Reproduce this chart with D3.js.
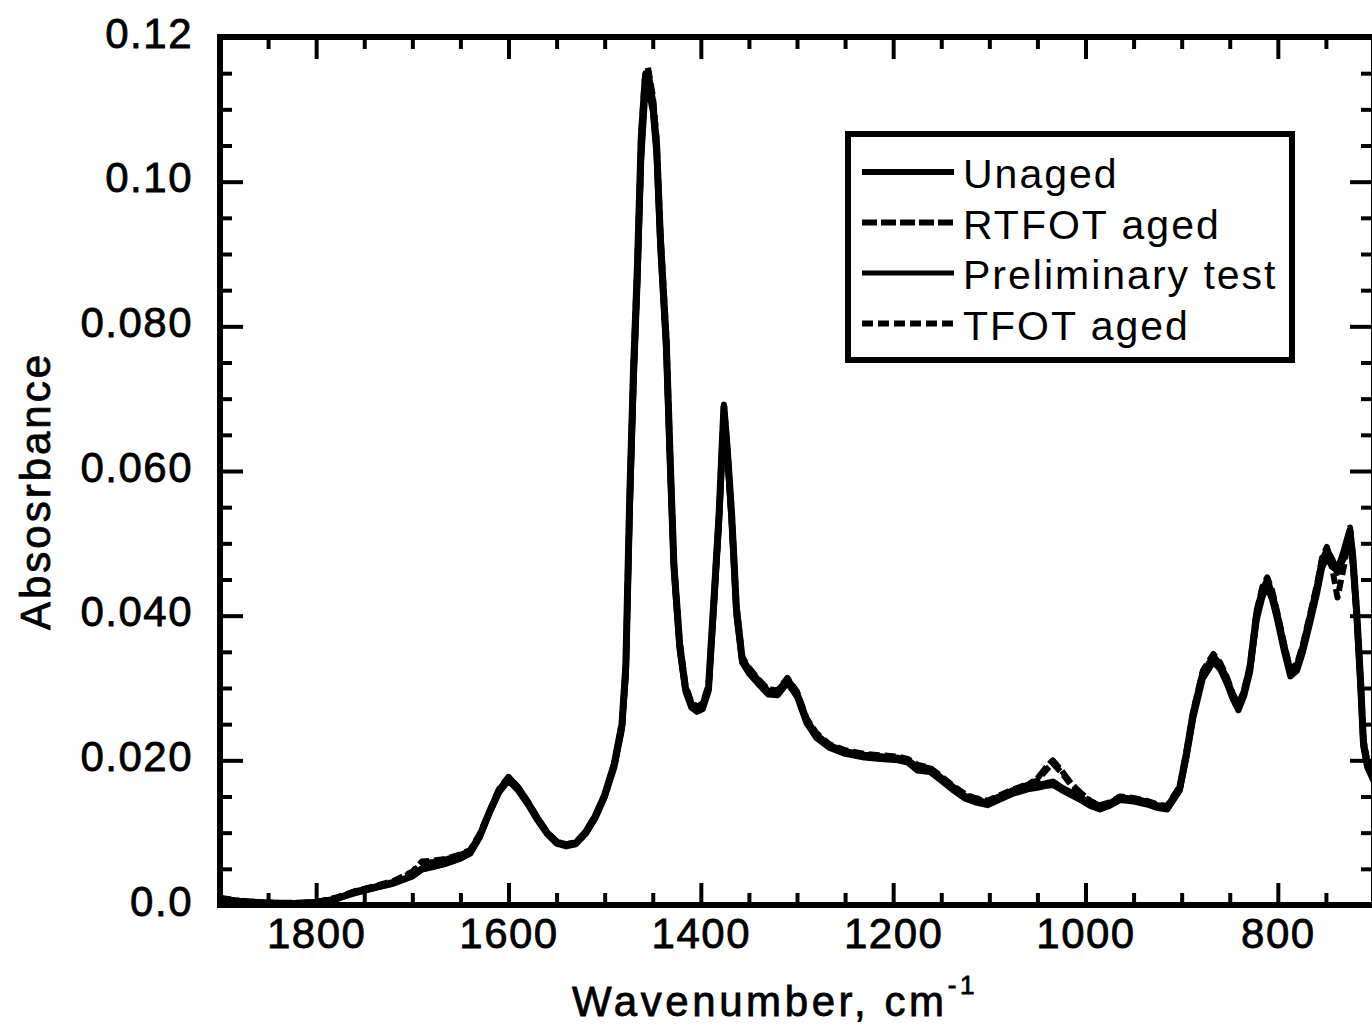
<!DOCTYPE html>
<html lang="en">
<head>
<meta charset="utf-8">
<title>FTIR spectra</title>
<script src="https://d3js.org/d3.v7.min.js"></script>
<style>
    body { margin: 0; background: white; }
    svg { display: block; }
    text { font-family: "Liberation Sans", Arial, sans-serif; fill: #000; }
    .series { fill: none; stroke: #000; stroke-linejoin: round; }
</style>
</head>
<body>
<svg width="1372" height="1027"></svg>
<script>
// values (wavenumber in cm-1, absorbance)
const wavenumbers = [1900, 1880, 1860, 1840, 1820, 1800, 1780, 1760, 1740, 1720, 1700, 1690, 1680, 1665, 1650, 1640, 1630, 1620, 1610, 1600,
    1590, 1580, 1570, 1560, 1550, 1540, 1530, 1520, 1510, 1500, 1490, 1482, 1478, 1474, 1470, 1466, 1462, 1458, 1455, 1450,
    1446, 1442, 1436, 1432, 1428, 1422, 1416, 1410, 1404, 1398, 1392, 1386, 1381, 1376, 1372, 1368, 1363, 1357, 1350, 1340,
    1330, 1320, 1310, 1300, 1290, 1280, 1266, 1250, 1230, 1213, 1195, 1185, 1175, 1162, 1150, 1138, 1125, 1115, 1102, 1090,
    1075, 1060, 1050, 1040, 1034, 1025, 1015, 1005, 995, 985, 975, 964, 950, 936, 925, 915, 902, 895, 888, 878,
    867, 860, 853, 847, 841, 835, 829, 822, 816, 811, 806, 801, 794, 787, 780, 774, 766, 759, 754, 749,
    744, 738, 731, 725, 722, 718, 714, 711, 707, 700];

const unaged = [.0008, .0005, .0003, .0002, .0002, .0003, .0008, .0018, .0024, .0030, .0040, .0050, .0053, .0058, .0065, .0072, .0095, .0128, .0158, .0176,
    .0162, .0142, .0120, .0100, .0087, .0083, .0086, .0100, .0122, .0152, .0195, .0250, .0330, .0560, .0740, .0880, .1060, .1140, .1152, .1110,
    .1050, .0920, .0780, .0620, .0470, .0360, .0300, .0278, .0272, .0276, .0300, .0430, .0540, .0688, .0620, .0540, .0410, .0340, .0325, .0310,
    .0295, .0295, .0312, .0292, .0255, .0235, .0220, .0212, .0207, .0205, .0203, .0200, .0190, .0187, .0175, .0162, .0150, .0145, .0141, .0148,
    .0157, .0163, .0165, .0168, .0170, .0162, .0155, .0148, .0140, .0135, .0140, .0148, .0146, .0142, .0137, .0135, .0162, .0210, .0265, .0320,
    .0343, .0332, .0312, .0290, .0274, .0295, .0328, .0403, .0435, .0448, .0430, .0403, .0360, .0322, .0330, .0356, .0400, .0440, .0475, .0490,
    .0478, .0460, .0490, .0518, .0480, .0405, .0310, .0225, .0195, .0175];

const rtfotAged = [.0009, .0006, .0004, .0003, .0003, .0004, .0009, .0017, .0025, .0032, .0045, .0058, .0059, .0063, .0069, .0075, .0097, .0127, .0157, .0174,
    .0160, .0141, .0119, .0099, .0086, .0082, .0085, .0098, .0120, .0150, .0192, .0246, .0322, .0545, .0725, .0865, .1040, .1125, .1140, .1105,
    .1045, .0915, .0775, .0615, .0468, .0358, .0298, .0277, .0270, .0274, .0298, .0425, .0535, .0680, .0615, .0535, .0405, .0338, .0323, .0308,
    .0294, .0293, .0310, .0290, .0254, .0234, .0219, .0211, .0206, .0204, .0202, .0199, .0192, .0189, .0176, .0164, .0152, .0147, .0143, .0150,
    .0159, .0166, .0175, .0192, .0200, .0186, .0168, .0155, .0144, .0137, .0141, .0149, .0147, .0143, .0138, .0136, .0160, .0207, .0262, .0317,
    .0340, .0329, .0310, .0288, .0272, .0292, .0325, .0398, .0430, .0444, .0426, .0400, .0357, .0320, .0327, .0352, .0396, .0436, .0470, .0485,
    .0474, .0468, .0485, .0512, .0476, .0400, .0306, .0222, .0193, .0173];

const preliminaryTest = [.0008, .0005, .0003, .0002, .0002, .0004, .0008, .0016, .0023, .0030, .0040, .0049, .0052, .0057, .0064, .0071, .0093, .0126, .0155, .0172,
    .0158, .0139, .0117, .0098, .0085, .0081, .0084, .0098, .0119, .0149, .0190, .0243, .0318, .0540, .0715, .0855, .1030, .1118, .1130, .1098,
    .1035, .0905, .0765, .0605, .0460, .0352, .0295, .0273, .0267, .0271, .0295, .0420, .0530, .0675, .0610, .0530, .0400, .0335, .0320, .0305,
    .0291, .0290, .0307, .0288, .0251, .0231, .0217, .0209, .0204, .0202, .0200, .0197, .0186, .0184, .0172, .0159, .0147, .0142, .0138, .0145,
    .0154, .0160, .0162, .0165, .0166, .0159, .0152, .0145, .0137, .0132, .0137, .0145, .0143, .0139, .0134, .0132, .0158, .0204, .0258, .0313,
    .0336, .0326, .0306, .0285, .0269, .0289, .0321, .0394, .0426, .0440, .0422, .0396, .0353, .0316, .0324, .0349, .0392, .0432, .0466, .0481,
    .0468, .0462, .0480, .0508, .0470, .0395, .0300, .0218, .0190, .0170];

const tfotAged = [.0010, .0006, .0004, .0003, .0002, .0004, .0010, .0019, .0026, .0033, .0046, .0060, .0061, .0064, .0070, .0076, .0098, .0129, .0160, .0177,
    .0163, .0143, .0121, .0101, .0088, .0084, .0087, .0101, .0123, .0153, .0196, .0252, .0334, .0565, .0748, .0890, .1065, .1148, .1158, .1120,
    .1060, .0930, .0790, .0628, .0475, .0364, .0304, .0281, .0274, .0279, .0304, .0435, .0545, .0692, .0625, .0545, .0415, .0343, .0328, .0312,
    .0298, .0297, .0314, .0295, .0258, .0238, .0222, .0214, .0209, .0207, .0205, .0202, .0194, .0190, .0178, .0165, .0153, .0148, .0144, .0151,
    .0160, .0167, .0172, .0188, .0196, .0183, .0166, .0154, .0143, .0138, .0142, .0150, .0148, .0144, .0139, .0137, .0164, .0213, .0268, .0324,
    .0347, .0335, .0315, .0293, .0277, .0298, .0331, .0407, .0440, .0453, .0435, .0407, .0364, .0325, .0334, .0360, .0405, .0445, .0480, .0495,
    .0470, .0425, .0470, .0522, .0485, .0410, .0315, .0230, .0198, .0178];

const seriesNames = ['Unaged', 'RTFOT aged', 'Preliminary test', 'TFOT aged'];
const seriesValues = [unaged, rtfotAged, preliminaryTest, tfotAged];
const seriesDash = [null, '15,4', null, '11,5'];
const seriesWidth = [7, 6, 6, 6];
const legendWidth = [6, 6, 5, 6];

const xTickValues = [1800, 1600, 1400, 1200, 1000, 800];
const xMinorValues = [1850, 1750, 1700, 1650, 1550, 1500, 1450, 1350, 1300, 1250, 1150, 1100, 1050, 950, 900, 850, 750];
const yTickValues = [0, 0.02, 0.04, 0.06, 0.08, 0.10, 0.12];
const yTickLabels = ['0.0', '0.020', '0.040', '0.060', '0.080', '0.10', '0.12'];
const yMinorValues = [0.005, 0.01, 0.015, 0.025, 0.03, 0.035, 0.045, 0.05, 0.055, 0.065, 0.07, 0.075,
    0.085, 0.09, 0.095, 0.105, 0.11, 0.115];

// plot box
const plot = {left: 220, right: 1374, top: 37, bottom: 905};

const svg = d3.select('svg');

const x = d3.scaleLinear().domain([1900, 700]).range([plot.left, plot.right]);
const y = d3.scaleLinear().domain([0, 0.12]).range([plot.bottom, plot.top]);

// the curves
const line = d3.line()
    .x(d => x(d[0]))
    .y(d => y(d[1]));

seriesValues.forEach((vals, i) => {
    const pts = wavenumbers.map((w, j) => [w, vals[j]]);
    svg.append('path')
        .attr('class', 'series')
        .attr('d', line(pts))
        .attr('stroke-width', seriesWidth[i])
        .attr('stroke-dasharray', seriesDash[i]);
});

// axes: ticks point inward on all four sides
function styleAxis(g) {
    g.select('.domain').remove();
    g.selectAll('.tick line').attr('stroke', '#000').attr('stroke-width', 4);
    g.selectAll('.tick text')
        .attr('font-size', 42)
        .attr('letter-spacing', 1.5)
        .attr('font-family', '"Liberation Sans", Arial, sans-serif')
        .attr('stroke', '#000').attr('stroke-width', 0.8);
}

svg.append('g')
    .attr('transform', `translate(0, ${plot.bottom})`)
    .call(d3.axisBottom(x).tickValues(xTickValues).tickSize(-22).tickPadding(13).tickFormat(d3.format('d')))
    .call(styleAxis);
svg.append('g')
    .attr('transform', `translate(0, ${plot.bottom})`)
    .call(d3.axisBottom(x).tickValues(xMinorValues).tickSize(-12).tickFormat(''))
    .call(styleAxis);
svg.append('g')
    .attr('transform', `translate(0, ${plot.top})`)
    .call(d3.axisTop(x).tickValues(xTickValues).tickSize(-22).tickFormat(''))
    .call(styleAxis);
svg.append('g')
    .attr('transform', `translate(0, ${plot.top})`)
    .call(d3.axisTop(x).tickValues(xMinorValues).tickSize(-12).tickFormat(''))
    .call(styleAxis);

svg.append('g')
    .attr('transform', `translate(${plot.left}, 0)`)
    .call(d3.axisLeft(y).tickValues(yTickValues).tickSize(-23).tickPadding(27)
        .tickFormat((d, i) => yTickLabels[i]))
    .call(styleAxis)
    .selectAll('.tick text').attr('dy', '0.24em');
svg.append('g')
    .attr('transform', `translate(${plot.left}, 0)`)
    .call(d3.axisLeft(y).tickValues(yMinorValues).tickSize(-12).tickFormat(''))
    .call(styleAxis);
svg.append('g')
    .attr('transform', `translate(${plot.right}, 0)`)
    .call(d3.axisRight(y).tickValues(yTickValues).tickSize(-24).tickFormat(''))
    .call(styleAxis);
svg.append('g')
    .attr('transform', `translate(${plot.right}, 0)`)
    .call(d3.axisRight(y).tickValues(yMinorValues).tickSize(-13).tickFormat(''))
    .call(styleAxis);

// frame
svg.append('rect')
    .attr('x', plot.left).attr('y', plot.top)
    .attr('width', plot.right - plot.left).attr('height', plot.bottom - plot.top)
    .attr('fill', 'none').attr('stroke', '#000').attr('stroke-width', 6);

// axis titles
const xTitle = svg.append('text')
    .attr('x', 572).attr('y', 1016)
    .attr('font-size', 42).attr('letter-spacing', 3.6)
    .attr('stroke', '#000').attr('stroke-width', 0.8);
xTitle.append('tspan').text('Wavenumber, cm');
xTitle.append('tspan').attr('font-size', 26).attr('dy', -22).attr('dx', 0).text('-1');

svg.append('text')
    .attr('transform', 'translate(50, 491) rotate(-90)')
    .attr('text-anchor', 'middle')
    .attr('font-size', 42).attr('letter-spacing', 3)
    .attr('stroke', '#000').attr('stroke-width', 0.8)
    .text('Absosrbance');

// legend
const legend = svg.append('g');
legend.append('rect')
    .attr('x', 848).attr('y', 134).attr('width', 444).attr('height', 226)
    .attr('fill', 'white').attr('stroke', '#000').attr('stroke-width', 6);

seriesNames.forEach((name, i) => {
    const rowY = 172 + i * 50.5;
    legend.append('line')
        .attr('x1', 862).attr('x2', 954)
        .attr('y1', rowY).attr('y2', rowY)
        .attr('stroke', '#000')
        .attr('stroke-width', legendWidth[i])
        .attr('stroke-dasharray', seriesDash[i]);
    legend.append('text')
        .attr('x', 963).attr('y', rowY + 16)
        .attr('font-size', 41).attr('letter-spacing', 2)
        .text(name);
});
</script>
</body>
</html>
